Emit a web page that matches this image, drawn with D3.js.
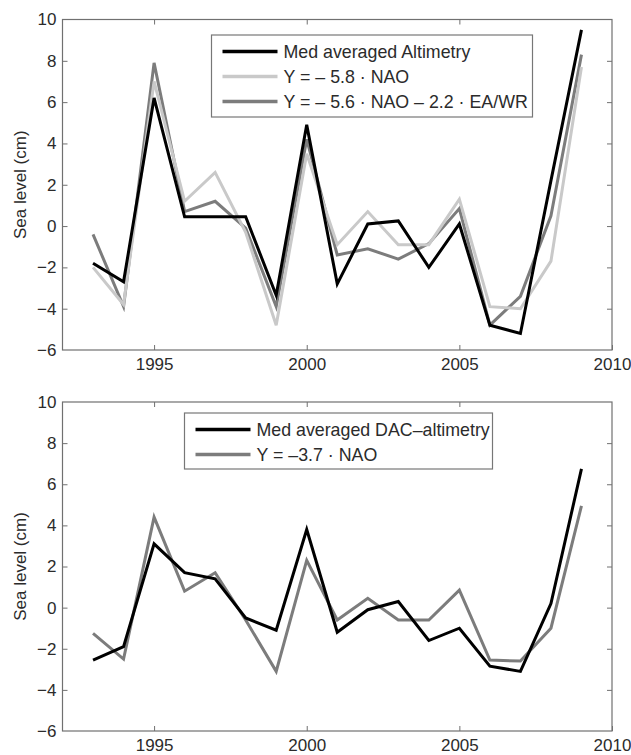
<!DOCTYPE html>
<html>
<head>
<meta charset="utf-8">
<script src="https://cdn.jsdelivr.net/npm/d3@7"></script>
<style>
  body { margin: 0; background: #fff; }
  text { font-family: "Liberation Sans", Arial, Helvetica, sans-serif; fill: #2b2b2b; }
  .axis path, .axis line { stroke: #707070; }
</style>
</head>
<body>
<div id="chart"></div>
<script>
// years on the x axis
var years = [1993, 1994, 1995, 1996, 1997, 1998, 1999, 2000, 2001,
             2002, 2003, 2004, 2005, 2006, 2007, 2008, 2009];

// top panel
var altimetry = [-1.8, -2.7, 6.2, 0.45, 0.45, 0.45, -3.35, 4.9, -2.8,
                 0.1, 0.25, -2.0, 0.1, -4.8, -5.2, 2.2, 9.5];
var naoFit = [-2.0, -3.8, 7.0, 1.2, 2.6, -0.3, -4.8, 3.5, -0.9,
              0.7, -0.9, -0.9, 1.3, -3.9, -4.0, -1.7, 7.7];
var naoEaFit = [-0.4, -3.9, 7.9, 0.7, 1.2, -0.1, -3.9, 4.2, -1.4,
                -1.1, -1.6, -0.85, 0.85, -4.8, -3.4, 0.5, 8.3];

// bottom panel
var dacAltimetry = [-2.55, -1.9, 3.1, 1.7, 1.4, -0.5, -1.1, 3.8, -1.2,
                    -0.1, 0.3, -1.6, -1.0, -2.85, -3.1, 0.2, 6.75];
var dacNaoFit = [-1.25, -2.5, 4.4, 0.8, 1.7, -0.6, -3.1, 2.3, -0.6,
                 0.45, -0.6, -0.6, 0.85, -2.55, -2.6, -1.0, 4.95];

var xTicks = [1995, 2000, 2005, 2010];
var yTicks = [-6, -4, -2, 0, 2, 4, 6, 8, 10];

var topLegend = ["Med averaged Altimetry", "Y = \u2013 5.8 \u00b7 NAO", "Y = \u2013 5.6 \u00b7 NAO \u2013 2.2 \u00b7 EA/WR"];
var bottomLegend = ["Med averaged DAC\u2013altimetry", "Y = \u20133.7 \u00b7 NAO"];

function init() {
    var w = 631, h = 755;
    var left = 62.5, right = 612;

    var svg = d3.select("#chart").append("svg")
        .attr("width", w)
        .attr("height", h);

    var xScale = d3.scaleLinear().domain([1992, 2010]).range([left, right]);

    function panel(top, bottom, series, labels, legendBox) {
        var yScale = d3.scaleLinear().domain([-6, 10]).range([bottom, top]);
        var g = svg.append("g");

        // frame
        g.append("rect")
            .attr("x", left).attr("y", top)
            .attr("width", right - left).attr("height", bottom - top)
            .attr("fill", "none").attr("stroke", "#707070").attr("stroke-width", 1.2);

        // axes with inward ticks (matlab style)
        var xAxis = d3.axisBottom(xScale).tickValues(xTicks).tickFormat(d3.format("d"))
            .tickSizeInner(-5).tickSizeOuter(0).tickPadding(12);
        var gx = g.append("g").attr("class", "axis")
            .attr("transform", "translate(0," + bottom + ")").call(xAxis);
        gx.select(".domain").remove();
        gx.selectAll("text").attr("font-size", 17).attr("dy", "0.71em").attr("y", 8);

        // top ticks
        g.append("g").attr("class", "axis")
            .attr("transform", "translate(0," + top + ")")
            .call(d3.axisTop(xScale).tickValues(xTicks.slice(0, 3)).tickSizeInner(-5).tickSizeOuter(0).tickFormat(""))
            .select(".domain").remove();

        var yAxis = d3.axisLeft(yScale).tickValues(yTicks)
            .tickFormat(function(d) { return d < 0 ? "\u2212" + Math.abs(d) : d; })
            .tickSizeInner(-5).tickSizeOuter(0).tickPadding(6);
        var gy = g.append("g").attr("class", "axis")
            .attr("transform", "translate(" + left + ",0)").call(yAxis);
        gy.select(".domain").remove();
        gy.selectAll("text").attr("font-size", 17).attr("x", -6);
        gy.selectAll(".tick line").filter(function(d) { return d === -6 || d === 10; }).remove();

        // right ticks
        var gr = g.append("g").attr("class", "axis")
            .attr("transform", "translate(" + right + ",0)")
            .call(d3.axisRight(yScale).tickValues(yTicks.slice(1, 8)).tickSizeInner(-5).tickSizeOuter(0).tickFormat(""));
        gr.select(".domain").remove();

        g.append("text")
            .attr("transform", "translate(20," + ((top + bottom) / 2) + ") rotate(-90)")
            .attr("text-anchor", "middle")
            .attr("dy", "0.35em")
            .attr("font-size", 17)
            .attr("fill", "#3a3a3a")
            .text("Sea level (cm)");

        var line = d3.line()
            .x(function(d, i) { return xScale(years[i]); })
            .y(function(d) { return yScale(d); });

        // draw back to front
        series.slice().reverse().forEach(function(s) {
            g.append("path")
                .datum(s.values)
                .attr("fill", "none")
                .attr("stroke", s.color)
                .attr("stroke-width", 3)
                .attr("stroke-linejoin", "miter")
                .attr("d", line);
        });

        // legend
        g.append("rect")
            .attr("x", legendBox.x).attr("y", legendBox.y)
            .attr("width", legendBox.w).attr("height", legendBox.h)
            .attr("fill", "#fff").attr("stroke", "#777").attr("stroke-width", 1.2);

        series.forEach(function(s, i) {
            var yy = legendBox.y + 16.5 + i * 25;
            g.append("line")
                .attr("x1", legendBox.x + 11).attr("x2", legendBox.x + 66)
                .attr("y1", yy).attr("y2", yy)
                .attr("stroke", s.color).attr("stroke-width", 3.5);
            g.append("text")
                .attr("x", legendBox.x + 72)
                .attr("y", yy)
                .attr("dy", "0.35em")
                .attr("font-size", 17.8)
                .text(labels[i]);
        });
    }

    panel(19.5, 350, [
        { values: altimetry, color: "#000" },
        { values: naoFit, color: "#c9c9c9" },
        { values: naoEaFit, color: "#7c7c7c" }
    ], topLegend, { x: 211.5, y: 35, w: 321, h: 82 });

    panel(402, 731, [
        { values: dacAltimetry, color: "#000" },
        { values: dacNaoFit, color: "#7c7c7c" }
    ], bottomLegend, { x: 184.5, y: 413, w: 308, h: 56 });
}
window.onload = init;
</script>
</body>
</html>
